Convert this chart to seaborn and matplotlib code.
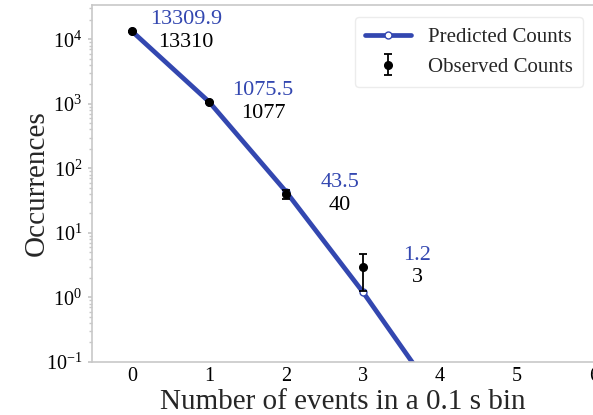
import seaborn as sns
import matplotlib.pyplot as plt
import pandas as pd
import numpy as np

BLUE, GRAY = '#3347b0', '#c8c8c8'

# counts per bin
events    = [0, 1, 2, 3, 4, 5, 6]
predicted = [13309.9, 1075.5, 43.5, 1.2, 0.024, 0.0004, 0.000005]
obs_x     = [0, 1, 2, 3]
observed  = [13310, 1077, 40, 3]
obs_err   = [115.4, 32.8, 6.3, 1.73]
pred_lbl  = ['13309.9', '1075.5', '43.5', '1.2']
obs_lbl   = ['13310', '1077', '40', '3']

sns.set_theme(style='white')
plt.rcParams['font.family'] = ['Liberation Serif', 'DejaVu Serif']
plt.rcParams['mathtext.fontset'] = 'custom'
plt.rcParams['mathtext.rm'] = 'Liberation Serif'
plt.rcParams['mathtext.it'] = 'Liberation Serif:italic'

df = pd.DataFrame({'events': events, 'predicted': predicted})

fig = plt.figure(figsize=(5.93, 4.15), dpi=100)
ax = fig.add_axes([0.155, 0.128, 0.847, 0.860])

sns.lineplot(data=df, x='events', y='predicted', ax=ax, color=BLUE, lw=3.4,
             marker='o', markersize=5, markerfacecolor='white',
             markeredgecolor=BLUE, markeredgewidth=1, zorder=2,
             label='Predicted Counts')
ax.errorbar(obs_x, observed, yerr=obs_err, fmt='o', color='black', ms=5.5,
            capsize=3, elinewidth=1.3, capthick=1.3, zorder=3,
            label='Observed Counts')

for x, o, pl, ol in zip(obs_x, observed, pred_lbl, obs_lbl):
    ax.text(x + 0.7, o * 1.5, pl, color=BLUE, fontsize=16,
            ha='center', va='center')
    ax.text(x + 0.7, o / 1.5, ol, color='black', fontsize=16,
            ha='center', va='center')

ax.set_yscale('log')
ax.set_xlim(-0.52, 6.0)
ax.set_ylim(0.1, 3.4e4)
ax.set_xticks(range(7))
ax.tick_params(axis='both', labelsize=14.5, colors='black', length=0, pad=4)
ax.tick_params(axis='y', which='minor', length=2, color=GRAY, left=True)
ax.tick_params(axis='y', which='major', length=3, color=GRAY, left=True)
for sp in ax.spines.values():
    sp.set_edgecolor(GRAY)
    sp.set_linewidth(1.2)

ax.set_xlabel('Number of events in a 0.1 s bin', fontsize=21, labelpad=2)
ax.set_ylabel('Occurrences', fontsize=21, labelpad=-3)

ax.legend(loc='upper right', bbox_to_anchor=(0.983, 0.959),
          bbox_transform=fig.transFigure, borderaxespad=0, fontsize=15,
          frameon=True, edgecolor='#e8e8e8', handlelength=2.2,
          borderpad=0.5, labelspacing=0.5)

plt.savefig('out.png', dpi=100)
